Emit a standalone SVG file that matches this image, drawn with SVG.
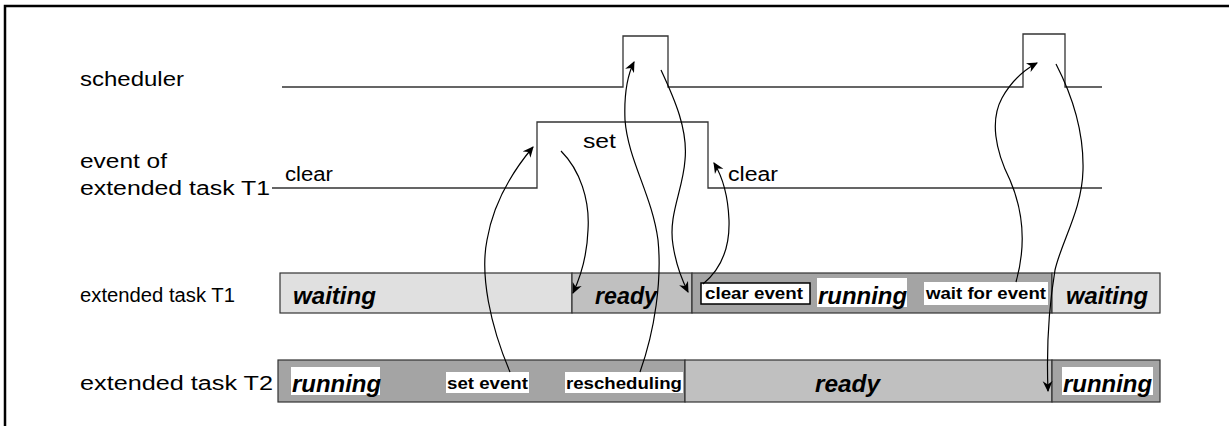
<svg xmlns="http://www.w3.org/2000/svg" width="1229" height="426" viewBox="0 0 1229 426">
<style>
.lbl{font-family:"Liberation Sans",Arial,sans-serif;font-size:20px;fill:#000}
.st{font-family:"Liberation Sans",Arial,sans-serif;font-size:24px;font-weight:bold;font-style:italic;fill:#000}
.sm{font-family:"Liberation Sans",Arial,sans-serif;font-size:16px;font-weight:bold;fill:#000}
.sig{fill:none;stroke:#333;stroke-width:1.3}
.bar{stroke:#333;stroke-width:1.2}
.wait{fill:#e0e0e0}
.ready{fill:#c0c0c0}
.run{fill:#a4a4a4}
.wbg{fill:#fff}
.arc{fill:none;stroke:#000;stroke-width:1.2}
</style>
<defs>
<marker id="ah" viewBox="0 0 10 10" refX="9" refY="5" markerWidth="11" markerHeight="11" markerUnits="userSpaceOnUse" orient="auto">
<path d="M0,0.5 L10,5 L0,9.5 L3,5 Z" fill="#000"/>
</marker>
</defs>
<path d="M5,432 L5,6 L1235,6" fill="none" stroke="#000" stroke-width="2.5"/>

<g id="scheduler">
<text class="lbl" x="80" y="86" textLength="104" lengthAdjust="spacingAndGlyphs">scheduler</text>
<path class="sig" d="M282,87 H623 V36 H668 V87 H1023 V34 H1065 V87 H1102"/>
</g>

<g id="event">
<text class="lbl" x="80" y="168" textLength="87" lengthAdjust="spacingAndGlyphs">event of</text>
<text class="lbl" x="80" y="195" textLength="190" lengthAdjust="spacingAndGlyphs">extended  task T1</text>
<text class="lbl" x="285" y="181" textLength="48" lengthAdjust="spacingAndGlyphs">clear</text>
<text class="lbl" x="583" y="148" textLength="33" lengthAdjust="spacingAndGlyphs">set</text>
<text class="lbl" x="728" y="181" textLength="50" lengthAdjust="spacingAndGlyphs">clear</text>
<path class="sig" d="M272,188 H537 V122 H708 V188 H1102"/>
</g>

<g id="taskT1">
<text class="lbl" x="80" y="302" textLength="155" lengthAdjust="spacingAndGlyphs">extended task T1</text>
<rect class="bar wait" x="280" y="273" width="292" height="40"/>
<rect class="bar ready" x="572" y="273" width="120" height="40"/>
<rect class="bar run" x="692" y="273" width="360" height="40"/>
<rect class="bar wait" x="1052" y="273" width="108" height="40"/>
<text class="st" x="293" y="304" textLength="83" lengthAdjust="spacingAndGlyphs">waiting</text>
<text class="st" x="595" y="304" textLength="62" lengthAdjust="spacingAndGlyphs">ready</text>
<rect x="701" y="283" width="109" height="21" fill="#fff" stroke="#000" stroke-width="1.5"/>
<text class="sm" x="705" y="299" textLength="98" lengthAdjust="spacingAndGlyphs">clear event</text>
<rect class="wbg" x="817" y="278" width="90" height="29"/>
<text class="st" x="818" y="304" textLength="89" lengthAdjust="spacingAndGlyphs">running</text>
<rect class="wbg" x="924" y="282" width="124" height="23"/>
<text class="sm" x="926" y="299" textLength="120" lengthAdjust="spacingAndGlyphs">wait for event</text>
<text class="st" x="1066" y="304" textLength="82" lengthAdjust="spacingAndGlyphs">waiting</text>
</g>

<g id="taskT2">
<text class="lbl" x="80" y="390" textLength="193" lengthAdjust="spacingAndGlyphs">extended  task T2</text>
<rect class="bar run" x="278" y="360" width="407" height="42"/>
<rect class="bar ready" x="685" y="360" width="367" height="42"/>
<rect class="bar run" x="1052" y="360" width="108" height="42"/>
<rect class="wbg" x="291" y="367" width="89" height="28"/>
<text class="st" x="292" y="392" textLength="89" lengthAdjust="spacingAndGlyphs">running</text>
<rect class="wbg" x="446" y="372" width="83" height="21"/>
<text class="sm" x="447" y="389" textLength="81" lengthAdjust="spacingAndGlyphs">set event</text>
<rect class="wbg" x="565" y="372" width="118" height="21"/>
<text class="sm" x="566" y="389" textLength="116" lengthAdjust="spacingAndGlyphs">rescheduling</text>
<text class="st" x="815" y="392" textLength="65" lengthAdjust="spacingAndGlyphs">ready</text>
<rect class="wbg" x="1062" y="367" width="91" height="28"/>
<text class="st" x="1063" y="392" textLength="89" lengthAdjust="spacingAndGlyphs">running</text>
</g>

<g id="connectors">
<path class="arc" marker-end="url(#ah)" d="M510,372 C490,325 480,275 487,240 C493,205 512,172 533,147"/>
<path class="arc" marker-end="url(#ah)" d="M561,151 C580,170 590,200 588,230 C587,258 580,278 573,293"/>
<path class="arc" marker-end="url(#ah)" d="M640,372 C655,330 662,280 658,240 C652,195 628,160 625,120 C624,95 627,76 634,62"/>
<path class="arc" marker-end="url(#ah)" d="M661,70 C675,100 688,130 685,160 C683,190 668,215 673,245 C676,265 682,280 688,292"/>
<path class="arc" marker-end="url(#ah)" d="M703,284 C720,270 730,250 729,220 C728,195 722,176 714,163"/>
<path class="arc" marker-end="url(#ah)" d="M1016,282 C1025,250 1025,215 1010,180 C995,150 990,120 1002,98 C1012,80 1024,70 1037,63"/>
<path class="arc" marker-end="url(#ah)" d="M1056,64 C1072,95 1084,130 1083,170 C1082,210 1062,240 1055,270 C1050,300 1046,340 1048,391"/>
</g>
</svg>
